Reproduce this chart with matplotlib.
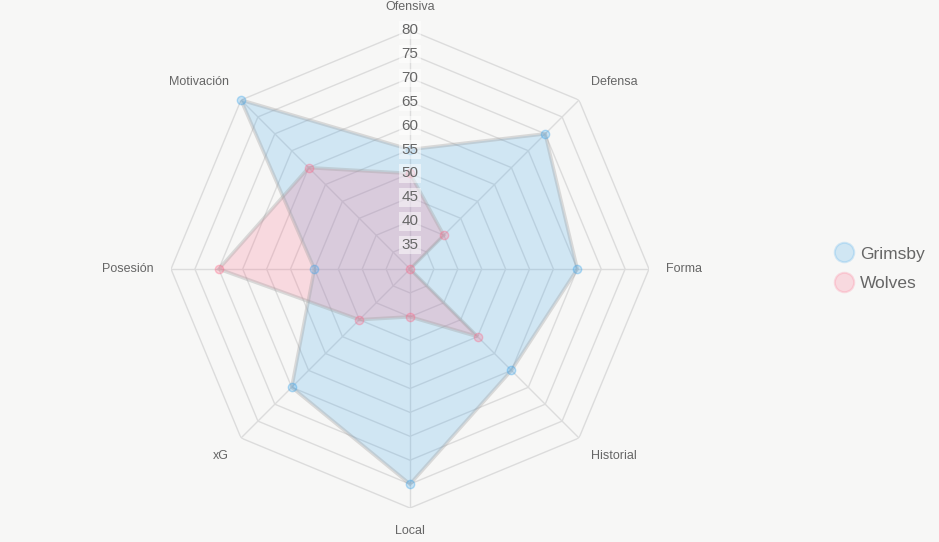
import numpy as np
import matplotlib
matplotlib.use("Agg")
import matplotlib.pyplot as plt
from matplotlib.lines import Line2D

plt.rcParams["font.family"] = ["Liberation Sans", "DejaVu Sans"]

# data
axes_labels = ["Ofensiva", "Defensa", "Forma", "Historial", "Local", "xG", "Posesión", "Motivación"]
grimsby = [55, 70, 65, 60, 75, 65, 50, 80]
wolves = [50, 40, 30, 50, 40, 45, 70, 60]
ticks = [35, 40, 45, 50, 55, 60, 65, 70, 75, 80]
r_min, r_max = 30, 80

bg = "#f7f7f6"
grid_col = "#dcdcdc"
txt_col = "#666666"

fig = plt.figure(figsize=(9.39, 5.42), dpi=100, facecolor=bg)
ax = fig.add_axes([0.1821, 0.0627, 0.5091, 0.8819], projection="polar")
ax.set_facecolor(bg)
ax.set_theta_zero_location("N")
ax.set_theta_direction(-1)
ax.set_ylim(r_min, r_max)
ax.grid(False)
ax.spines["polar"].set_visible(False)
ax.set_xticks([])
ax.set_yticks([])

n = len(axes_labels)
theta = np.arange(n) * 2 * np.pi / n
theta_closed = np.append(theta, theta[0])

# polygon grid
for t in ticks:
    ax.plot(theta_closed, [t] * (n + 1), color=grid_col, lw=1, zorder=1)
for th in theta:
    ax.plot([th, th], [r_min, r_max], color=grid_col, lw=1, zorder=1)

# datasets
series = [
    ("Grimsby", grimsby, (54/255, 162/255, 235/255)),
    ("Wolves", wolves, (255/255, 99/255, 132/255)),
]
handles = []
for name, vals, col in series:
    v = np.append(vals, vals[0])
    ax.fill(theta_closed, v, color=col, alpha=0.2, lw=0, zorder=2)
    ax.plot(theta_closed, v, color="#a0a0a0", alpha=0.35, lw=2.5, zorder=3,
            solid_joinstyle="miter")
    ax.plot(theta, vals, "o", ms=6, mfc=(*col, 0.25), mec=(*col, 0.35), mew=1,
            zorder=4, clip_on=False)
    handles.append(Line2D([], [], marker="o", ls="", ms=14,
                          mfc=(*col, 0.2), mec=(*col, 0.2), mew=1.5, label=name))

# tick labels on the vertical axis
for t in ticks:
    ax.text(0, t, str(t), ha="center", va="center", fontsize=11, color=txt_col,
            zorder=5, bbox=dict(boxstyle="square,pad=0.15", fc="white", ec="none", alpha=0.5))

# point labels
label_r = 83.6
aligns = [("center", "bottom"), ("left", "bottom"), ("left", "center"), ("left", "top"),
          ("center", "top"), ("right", "top"), ("right", "center"), ("right", "bottom")]
for th, lab, (ha, va) in zip(theta, axes_labels, aligns):
    ax.text(th, label_r, lab, ha=ha, va=va, fontsize=9, color=txt_col, clip_on=False)

fig.legend(handles=handles, loc="center left", bbox_to_anchor=(0.871, 0.504),
           frameon=False, fontsize=12.5, labelcolor=txt_col, handletextpad=0.35,
           labelspacing=0.84, handlelength=1.2)

fig.savefig("out.png", dpi=100, facecolor=bg)
